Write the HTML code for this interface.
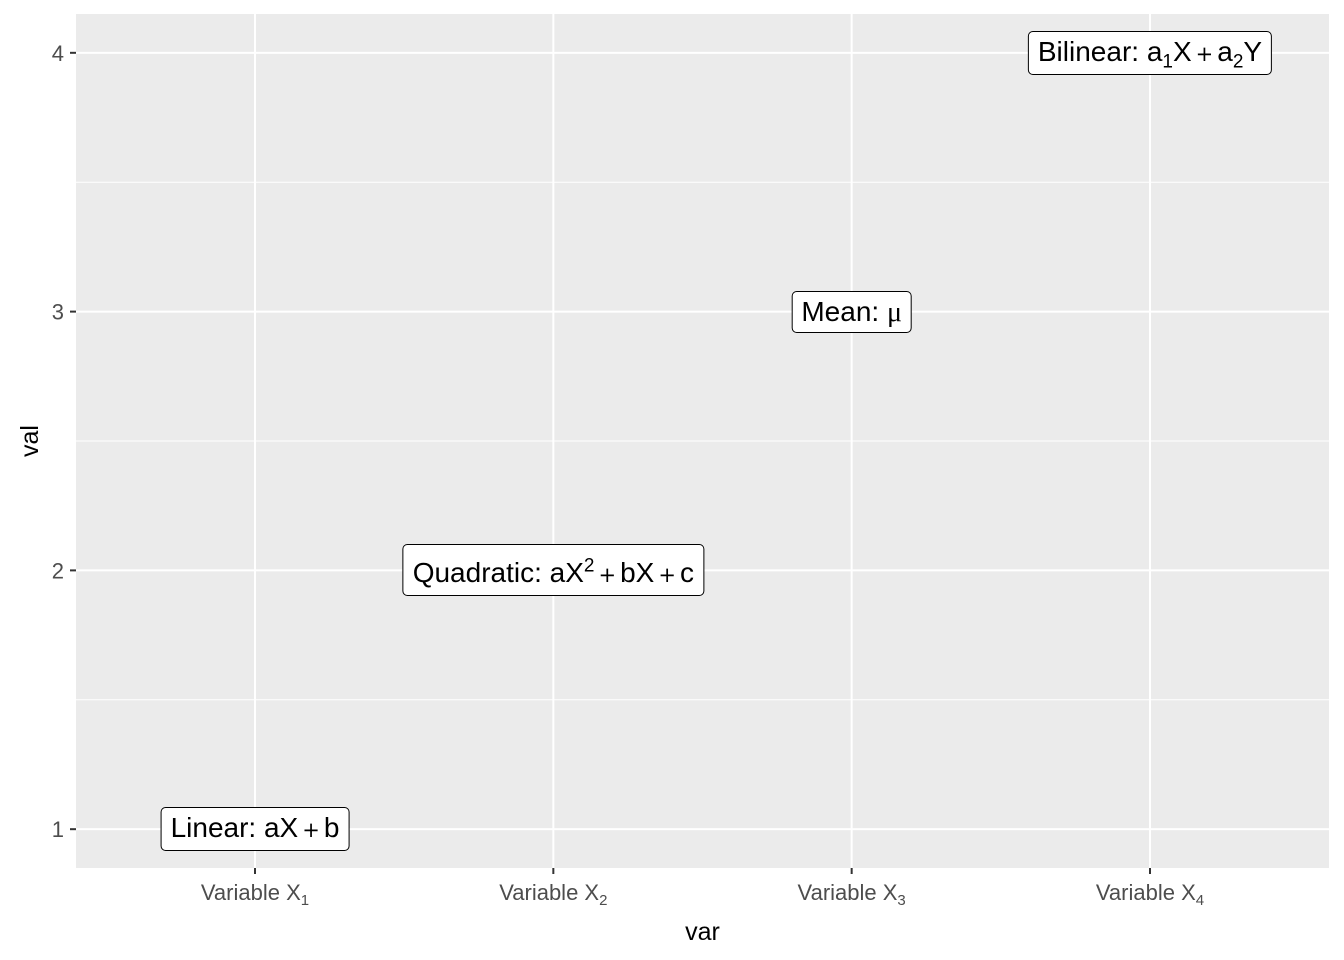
<!DOCTYPE html>
<html><head><meta charset="utf-8">
<style>
body{margin:0;background:#fff;width:1344px;height:960px;position:relative;overflow:hidden;font-family:"Liberation Sans",Arial,sans-serif;}
svg{position:absolute;left:0;top:0}
.lab{position:absolute;transform:translate(-50%,-50%);background:#fff;border:1px solid #000;border-radius:5px;padding:5px 9px 5px 9px;font-size:28px;color:#000;white-space:nowrap;line-height:29px}
.lab sub,.lab sup{font-size:19px;line-height:0}
.lab.q{padding-top:13px}
.op{font-family:"DejaVu Sans",sans-serif;font-size:21px;margin:0 4px}
</style></head><body>
<svg id="chart" width="1344" height="960"></svg>
<div id="labels"></div>
<script>
const categories=["X1","X2","X3","X4"];
const subs=["1","2","3","4"];
const values=[1,2,3,4];
const labelHtml=[
 'Linear: aX<span class="op">+</span>b',
 'Quadratic: aX<sup>2</sup><span class="op">+</span>bX<span class="op">+</span>c',
 'Mean: <span style="font-family:\'Liberation Serif\',serif">μ</span>',
 'Bilinear: a<sub>1</sub>X<span class="op">+</span>a<sub>2</sub>Y'];
const yTicks=[1,2,3,4];
const L=76,R=1329,T=14,B=868;
const yMin=0.85,yMax=4.15;
const xs=i=>L+(i+0.6)*(R-L)/(categories.length-1+1.2);
const ys=v=>B-(v-yMin)/(yMax-yMin)*(B-T);
const svg=document.getElementById('chart');
const NS="http://www.w3.org/2000/svg";
function mk(t,a){const e=document.createElementNS(NS,t);for(const k in a)e.setAttribute(k,a[k]);svg.appendChild(e);return e;}
const bg=mk('rect',{x:L,y:T,width:R-L,height:B-T,fill:'#ebebeb'});


for(let i=0;i<yTicks.length-1;i++){const v=(yTicks[i]+yTicks[i+1])/2;
 const g=mk('line',{x1:L,x2:R,y1:ys(v),y2:ys(v),stroke:'#fff','stroke-width':1});
 
 }
yTicks.forEach(v=>{
 const g=mk('line',{x1:L,x2:R,y1:ys(v),y2:ys(v),stroke:'#fff','stroke-width':2});
 
 
 const t=mk('line',{x1:L-6,x2:L,y1:ys(v),y2:ys(v),stroke:'#333','stroke-width':2});
 
 
 const tx=mk('text',{x:L-12,y:ys(v)+8,'text-anchor':'end','font-size':22,fill:'#4d4d4d'});
 tx.textContent=v;
 
 
});
categories.forEach((c,i)=>{
 const x=xs(i);
 const g=mk('line',{x1:x,x2:x,y1:T,y2:B,stroke:'#fff','stroke-width':2});
 
 
 const t=mk('line',{x1:x,x2:x,y1:B,y2:B+6,stroke:'#333','stroke-width':2});
 
 
 const tx=mk('text',{x:x,y:900,'text-anchor':'middle','font-size':22,fill:'#4d4d4d'});
 tx.innerHTML='Variable X<tspan font-size="15" dy="5">'+subs[i]+'</tspan>';
 
 
});
const xt=mk('text',{x:(L+R)/2,y:940,'text-anchor':'middle','font-size':25,fill:'#000'});
xt.textContent='var';


const yt=mk('text',{x:0,y:0,'text-anchor':'middle','font-size':25,fill:'#000',transform:'translate(38,'+((T+B)/2)+') rotate(-90)'});
yt.textContent='val';


const lw=document.getElementById('labels');
values.forEach((v,i)=>{
 const d=document.createElement('div');
 d.className='lab'+(i===1?' q':'');
 d.innerHTML=labelHtml[i];
 d.style.left=xs(i)+'px';
 d.style.top=ys(v)+'px';
 
 
 lw.appendChild(d);
});
</script>
</body></html>
